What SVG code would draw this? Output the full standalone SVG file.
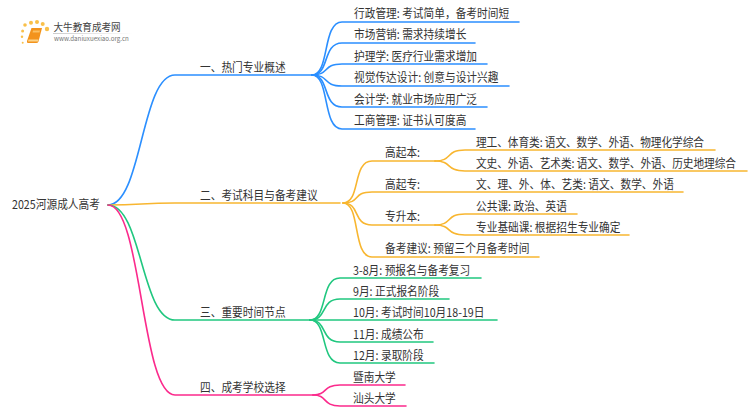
<svg xmlns="http://www.w3.org/2000/svg" width="750" height="410" viewBox="0 0 750 410">
<style>
text{font-family:"Noto Sans CJK SC","Noto Sans",sans-serif;font-size:10.7px;fill:#333;transform-box:fill-box;transform-origin:0 100%;transform:scaleY(1.12)}
.l{fill:none;stroke-width:1.6;stroke-linecap:round}
.b{stroke:#2b8fff}.o{stroke:#f8b630}.g{stroke:#20c77f}.p{stroke:#fb2a8c}
</style>
<defs><linearGradient id="fade"><stop offset="0" stop-color="#ccc"/><stop offset="1" stop-color="#ccc" stop-opacity="0"/></linearGradient>
<filter id="soft" x="-5%" y="-5%" width="110%" height="110%"><feGaussianBlur stdDeviation="0.4"/></filter></defs>
<rect width="750" height="410" fill="#fff"/>
<g id="connectors">
<path class="l b" d="M108 205C142 205 141 75 175 75H312"/>
<path class="l o" d="M108 205C142 205 141 203 175 203H340"/>
<path class="l g" d="M108 205C142 205 141 320 175 320H310"/>
<path class="l p" d="M108 205C142 205 141 395 175 395H313"/>
<path class="l b" d="M312 75C330 75 322 22 342 22H519"/>
<path class="l b" d="M312 75C330 75 322 43 342 43H475"/>
<path class="l b" d="M312 75C330 75 322 64 342 64H487"/>
<path class="l b" d="M312 75C330 75 322 86 342 86H509"/>
<path class="l b" d="M312 75C330 75 322 107 342 107H487"/>
<path class="l b" d="M312 75C330 75 322 129 342 129H475"/>
<path class="l o" d="M343 203C361 203 352 161 372 161H435"/>
<path class="l o" d="M343 203C361 203 352 192 372 192H683"/>
<path class="l o" d="M343 203C361 203 352 225 372 225H435"/>
<path class="l o" d="M343 203C361 203 352 257 372 257H539"/>
<path class="l o" d="M435 161C453 161 445 150 465 150H715"/>
<path class="l o" d="M435 161C453 161 445 171 465 171H747"/>
<path class="l o" d="M435 225C453 225 445 214 465 214H577"/>
<path class="l o" d="M435 225C453 225 445 235 465 235H629"/>
<path class="l g" d="M310 320C328 320 320 278 340 278H481"/>
<path class="l g" d="M310 320C328 320 320 299 340 299H449"/>
<path class="l g" d="M310 320H497"/>
<path class="l g" d="M310 320C328 320 320 342 340 342H433"/>
<path class="l g" d="M310 320C328 320 320 363 340 363H434"/>
<path class="l p" d="M313 395C328 395 322 385 340 385H405"/>
<path class="l p" d="M313 395C328 395 322 406 340 406H406"/>
</g>
<g id="logo">
<g filter="url(#soft)">
<g fill="#f9c04a"><circle cx="22.600" cy="31" r="1.500"/><circle cx="25" cy="25" r="1.800"/><circle cx="31" cy="22.700" r="2"/><circle cx="37" cy="22" r="2"/><circle cx="42.700" cy="24" r="2"/><circle cx="47" cy="29" r="2.200"/><circle cx="22" cy="36.700" r="1.200"/><circle cx="22.700" cy="42.700" r="1"/></g>
<path d="M31.500 28H42L38.500 41.500Q38 43 36 43H28Q26.500 43 27 41Z" fill="#f3931a"/>
<path d="M28.500 39.500H38.500L38 41.500H28Z" fill="#fcd48a"/>
<path d="M33 30.500H40L39.500 32.500H32.500Z" fill="#fbc063"/>
<rect x="53" y="33" width="80" height="1" fill="url(#fade)"/>
</g>
<text x="53.500" y="31" style="font-size:9.6px;fill:#444">大牛教育成考网</text>
<text x="54" y="41" style="font-size:6.2px;fill:#777">www.daniuxuexiao.org.cn</text>
</g>
<g transform="translate(0,1)">
<g id="root"><text x="12" y="208">2025河源成人高考</text></g>
<g id="b1"><text x="200" y="71">一、热门专业概述</text></g>
<g id="b1-1"><text x="354" y="17">行政管理: 考试简单，备考时间短</text></g>
<g id="b1-2"><text x="354" y="38">市场营销: 需求持续增长</text></g>
<g id="b1-3"><text x="354" y="60">护理学: 医疗行业需求增加</text></g>
<g id="b1-4"><text x="354" y="81">视觉传达设计: 创意与设计兴趣</text></g>
<g id="b1-5"><text x="354" y="103">会计学: 就业市场应用广泛</text></g>
<g id="b1-6"><text x="354" y="124">工商管理: 证书认可度高</text></g>
<g id="b2"><text x="200" y="199">二、考试科目与备考建议</text></g>
<g id="b2-1"><text x="385" y="156">高起本:</text></g>
<g id="b2-1-1"><text x="476" y="146" textLength="228">理工、体育类: 语文、数学、外语、物理化学综合</text></g>
<g id="b2-1-2"><text x="476" y="167" textLength="260">文史、外语、艺术类: 语文、数学、外语、历史地理综合</text></g>
<g id="b2-2"><text x="385" y="188">高起专:</text></g>
<g id="b2-2-1"><text x="476" y="188">文、理、外、体、艺类: 语文、数学、外语</text></g>
<g id="b2-3"><text x="385" y="220">专升本:</text></g>
<g id="b2-3-1"><text x="476" y="210">公共课: 政治、英语</text></g>
<g id="b2-3-2"><text x="476" y="231">专业基础课: 根据招生专业确定</text></g>
<g id="b2-4"><text x="385" y="252">备考建议: 预留三个月备考时间</text></g>
<g id="b3"><text x="200" y="316">三、重要时间节点</text></g>
<g id="b3-1"><text x="353" y="274">3-8月: 预报名与备考复习</text></g>
<g id="b3-2"><text x="353" y="295">9月: 正式报名阶段</text></g>
<g id="b3-3"><text x="353" y="316">10月: 考试时间10月18-19日</text></g>
<g id="b3-4"><text x="353" y="338">11月: 成绩公布</text></g>
<g id="b3-5"><text x="353" y="359">12月: 录取阶段</text></g>
<g id="b4"><text x="200" y="391">四、成考学校选择</text></g>
<g id="b4-1"><text x="353" y="381">暨南大学</text></g>
<g id="b4-2"><text x="353" y="402">汕头大学</text></g>
</g>
</svg>
